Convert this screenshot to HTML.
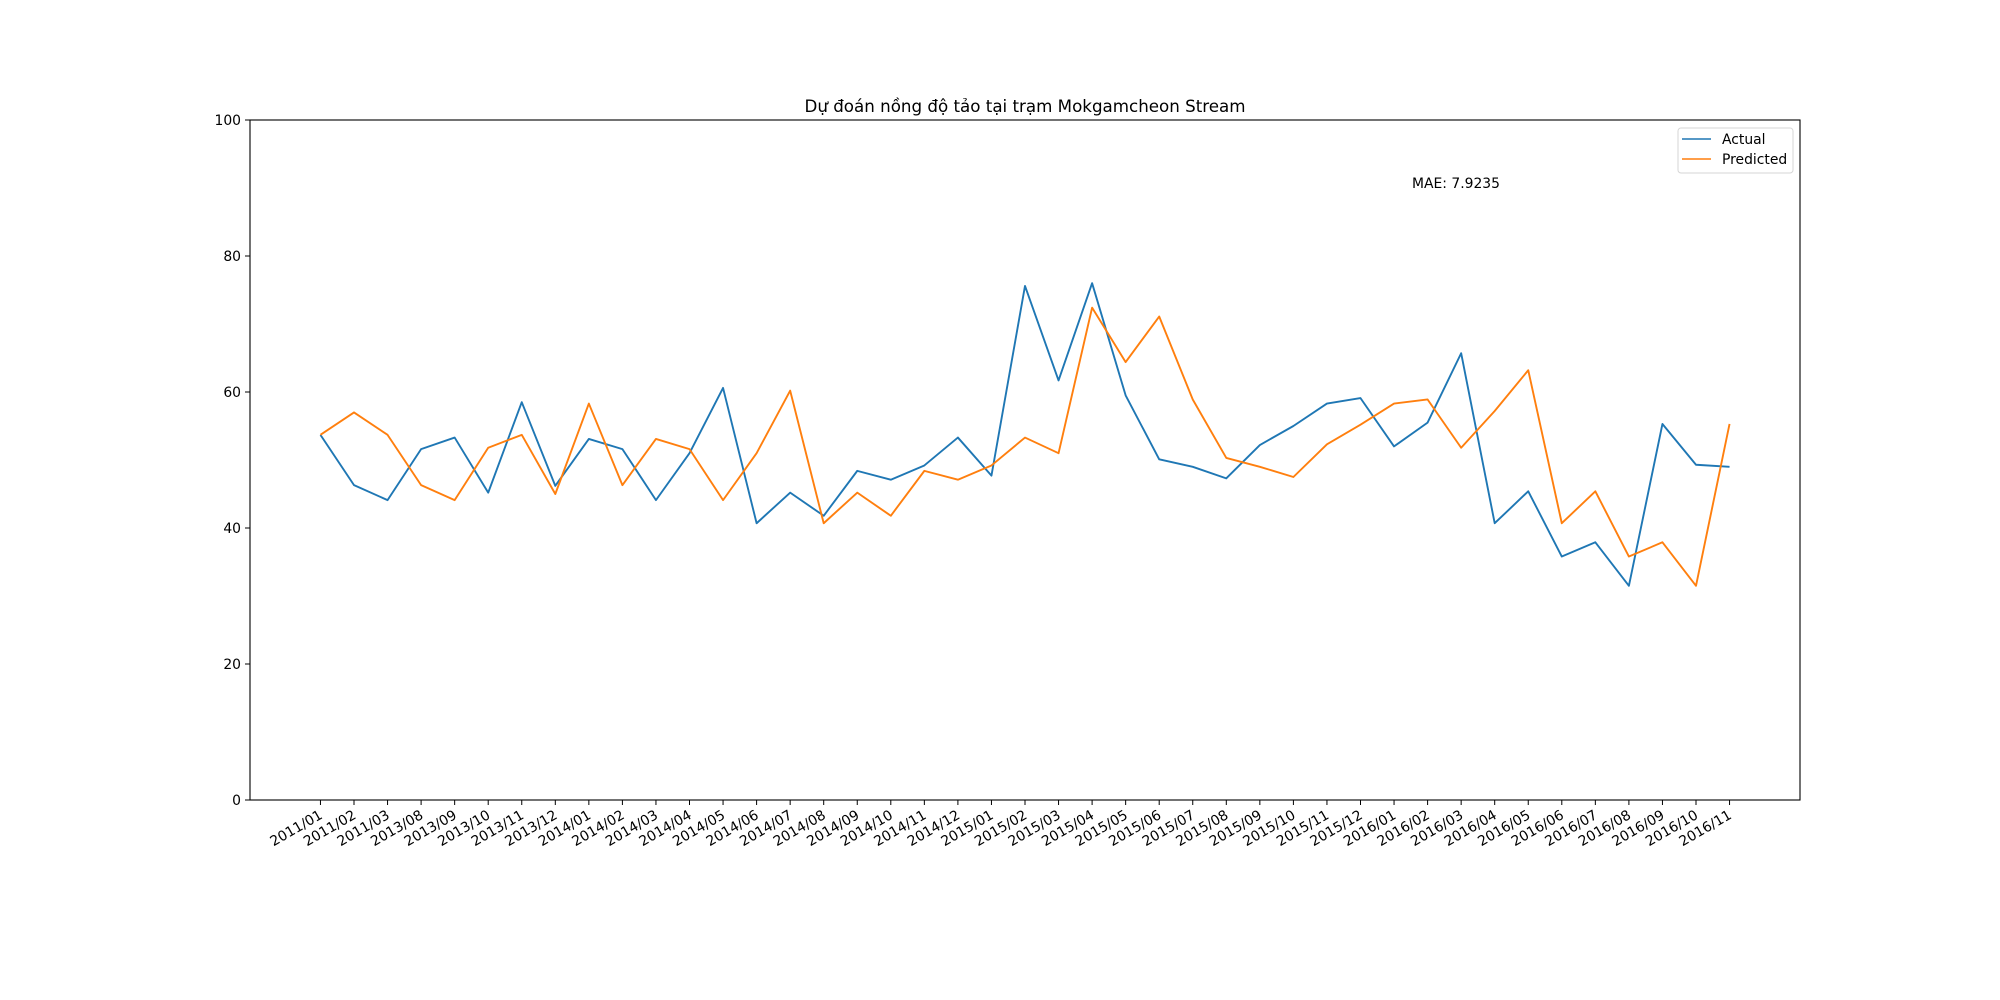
<!DOCTYPE html>
<html><head><meta charset="utf-8"><style>
body{margin:0;background:#fff;}
svg{display:block;font-family:"DejaVu Sans","Liberation Sans","Noto Sans CJK SC",sans-serif;}
</style></head><body>
<svg id="chart" width="2000" height="1000" xmlns="http://www.w3.org/2000/svg">
<rect width="2000" height="1000" fill="#fff"/>
<text x="1025" y="112" font-size="16.7" text-anchor="middle">Dự đoán nồng độ tảo tại trạm Mokgamcheon Stream</text>
<g id="grid"></g>
<g id="series"></g>
<rect x="250" y="120" width="1550" height="680" fill="none" stroke="#000" stroke-width="1.1"/>
<text x="1412" y="188" font-size="13.9">MAE: 7.9235</text>
<g>
<rect x="1678" y="128" width="115" height="45" rx="3" fill="#fff" fill-opacity="0.8" stroke="#d6d6d6"/>
<line x1="1682" y1="139" x2="1711" y2="139" stroke="#1f77b4" stroke-width="1.5"/>
<text x="1722" y="144" font-size="13.9">Actual</text>
<line x1="1682" y1="159" x2="1711" y2="159" stroke="#ff7f0e" stroke-width="1.5"/>
<text x="1722" y="164" font-size="13.9">Predicted</text>
</g>
</svg>
<script>
const categories=["2011/01","2011/02","2011/03","2013/08","2013/09","2013/10","2013/11","2013/12","2014/01","2014/02","2014/03","2014/04","2014/05","2014/06","2014/07","2014/08","2014/09","2014/10","2014/11","2014/12","2015/01","2015/02","2015/03","2015/04","2015/05","2015/06","2015/07","2015/08","2015/09","2015/10","2015/11","2015/12","2016/01","2016/02","2016/03","2016/04","2016/05","2016/06","2016/07","2016/08","2016/09","2016/10","2016/11"];
const actual=[53.7,46.3,44.1,51.6,53.3,45.2,58.5,46.2,53.1,51.6,44.1,51.0,60.6,40.7,45.2,41.8,48.4,47.1,49.2,53.3,47.7,75.6,61.7,76.0,59.5,50.1,49.0,47.3,52.2,55.0,58.3,59.1,52.0,55.5,65.7,40.7,45.4,35.8,37.9,31.5,55.3,49.3,49.0];
const predicted=[53.7,57.0,53.7,46.3,44.1,51.8,53.7,45.0,58.3,46.3,53.1,51.6,44.1,51.0,60.2,40.7,45.2,41.8,48.4,47.1,49.2,53.3,51.0,72.4,64.4,71.1,58.9,50.3,49.0,47.5,52.3,55.2,58.3,58.9,51.8,57.2,63.2,40.7,45.4,35.8,37.9,31.5,55.3];
const yTicks=[0,20,40,60,80,100];
const NS="http://www.w3.org/2000/svg";
const L=250,R=1800,T=120,B=800;
const n=categories.length,span=(n-1)*1.1;
function xs(i){return L+(i+(n-1)*0.05)/span*(R-L);}
function ys(v){return B-v/100*(B-T);}
const g=document.getElementById('grid'),s=document.getElementById('series');
function mk(tag,attrs,parent){const e=document.createElementNS(NS,tag);for(const k in attrs)e.setAttribute(k,attrs[k]);parent.appendChild(e);return e;}
yTicks.forEach(v=>{
 const y=ys(v);
 const t=mk('line',{x1:L-5,x2:L,y1:y,y2:y,stroke:'#000','stroke-width':1},g);
 
 
 const l=mk('text',{x:L-9,y:y+5,'font-size':13.9,'text-anchor':'end'},g);
 l.textContent=v;
 
 
});
categories.forEach((c,i)=>{
 const x=xs(i);
 const t=mk('line',{x1:x,x2:x,y1:B,y2:B+5,stroke:'#000','stroke-width':1},g);
 
 
 const l=mk('text',{transform:`translate(${x-2},${B+9}) rotate(-30)`,x:0,y:10,'font-size':13.9,'text-anchor':'end'},g);
 l.textContent=c;
 
 
});
function line(arr,color,name){
 const p=mk('polyline',{points:arr.map((v,i)=>xs(i)+','+ys(v)).join(' '),fill:'none',stroke:color,'stroke-width':1.9,'stroke-linejoin':'round'},s);
 
 
}
line(actual,'#1f77b4','actual-line');
line(predicted,'#ff7f0e','predicted-line');
</script>
</body></html>
